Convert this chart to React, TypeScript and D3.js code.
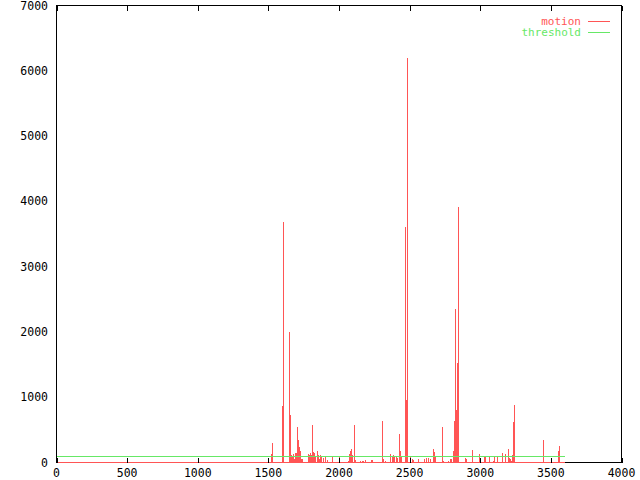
import React from "react";
import * as d3 from "d3";

const WIDTH = 640;
const HEIGHT = 480;

// frames with motion (everything else in 0..LAST_FRAME is 0)
const motionFrames = [
  1521, 1528, 1595, 1602, 1644, 1651, 1659, 1666, 1673, 1680, 1687, 1694, 1703, 1710, 1717, 1724,
  1729, 1736, 1779, 1786, 1793, 1800, 1812, 1818, 1825, 1832, 1843, 1850, 1857, 1864, 1871, 1890,
  1901, 1913, 1949, 2000, 2062, 2072, 2080, 2085, 2092, 2108, 2115, 2147, 2160, 2170, 2182, 2224,
  2235, 2307, 2313, 2323, 2362, 2373, 2384, 2391, 2401, 2412, 2427, 2434, 2441, 2465, 2470, 2474,
  2479, 2484, 2504, 2514, 2525, 2560, 2599, 2617, 2628, 2642, 2663, 2667, 2674, 2677, 2732, 2736,
  2771, 2783, 2795, 2807, 2814, 2821, 2828, 2833, 2840, 2889, 2896, 2939, 2988, 3024, 3034, 3064,
  3087, 3094, 3116, 3151, 3177, 3193, 3200, 3208, 3215, 3224, 3231, 3241, 3441, 3547, 3554,
];
const motionValues = [
  133, 296, 858, 3680, 2000, 720, 120, 80, 130, 60, 140, 150, 540, 340, 230, 180,
  60, 50, 130, 110, 150, 120, 582, 160, 140, 100, 170, 120, 60, 110, 90, 70,
  100, 40, 90, 90, 30, 130, 170, 210, 120, 580, 40, 30, 30, 30, 35, 40,
  40, 633, 60, 30, 130, 90, 110, 100, 90, 70, 440, 180, 80, 3600, 950, 950,
  6190, 950, 80, 60, 40, 60, 50, 70, 70, 60, 60, 210, 160, 100, 551, 30,
  30, 60, 60, 170, 640, 2350, 800, 1530, 3920, 70, 60, 194, 128, 90, 90, 90,
  20, 90, 90, 148, 130, 210, 70, 50, 30, 120, 618, 888, 350, 180, 260,
];
const FIRST_FRAME = 0;
const LAST_FRAME = 3600;
const THRESHOLD = 100;

const xTicks = [0, 500, 1000, 1500, 2000, 2500, 3000, 3500, 4000];
const yTicks = [0, 1000, 2000, 3000, 4000, 5000, 6000, 7000];

const RED = "#ff5555";
const GREEN = "#66e866";
const FONT = "'DejaVu Sans Mono', monospace";

const px = (v: number) => Math.round(v) + 0.5;

const App = () => {
  const x = d3.scaleLinear().domain([0, 4000]).range([56.5, 621.5]);
  const y = d3.scaleLinear().domain([0, 7000]).range([462.5, 5.5]);

  return (
    <svg
      width={WIDTH}
      height={HEIGHT}
      style={{ position: "absolute", left: 0, top: 0, background: "#fff" }}
      fontFamily={FONT}
      fontSize={11.5}
    >
      {/* frame */}
      <rect
        x={x(0)}
        y={y(7000)}
        width={x(4000) - x(0)}
        height={y(0) - y(7000)}
        fill="none"
        stroke="#000"
        strokeWidth={1}
        shapeRendering="crispEdges"
      />

      {/* motion impulses */}
      <g stroke={RED} strokeWidth={1} shapeRendering="crispEdges">
        {motionFrames.map((f, i) => (
          <line key={i} x1={px(x(f))} x2={px(x(f))} y1={y(0)} y2={Math.round(y(motionValues[i]))} />
        ))}
        <line x1={x(FIRST_FRAME)} x2={x(LAST_FRAME)} y1={y(0)} y2={y(0)} />
      </g>

      {/* threshold */}
      <line
        x1={x(FIRST_FRAME)}
        x2={x(LAST_FRAME)}
        y1={px(y(THRESHOLD))}
        y2={px(y(THRESHOLD))}
        stroke={GREEN}
        strokeWidth={1}
        shapeRendering="crispEdges"
      />

      {/* x ticks, bottom and mirrored on top */}
      <g stroke="#000" strokeWidth={1} shapeRendering="crispEdges">
        {xTicks.map((t) => (
          <g key={t}>
            <line x1={px(x(t))} x2={px(x(t))} y1={y(0)} y2={y(0) - 5} />
            <line x1={px(x(t))} x2={px(x(t))} y1={y(7000)} y2={y(7000) + 5} />
          </g>
        ))}
      </g>
      <g textAnchor="middle" fill="#000">
        {xTicks.map((t) => (
          <text key={t} x={x(t)} y={477}>
            {t}
          </text>
        ))}
      </g>

      {/* y labels */}
      <g textAnchor="end" fill="#000">
        {yTicks.map((t) => (
          <text key={t} x={48} y={y(t)} dy="0.35em">
            {t}
          </text>
        ))}
      </g>

      {/* legend */}
      <g textAnchor="end" fontSize={11}>
        <text x={581} y={21.5} dy="0.35em" fill={RED}>
          motion
        </text>
        <line x1={588} x2={610} y1={21.5} y2={21.5} stroke={RED} shapeRendering="crispEdges" />
        <text x={581} y={32.5} dy="0.35em" fill={GREEN}>
          threshold
        </text>
        <line x1={588} x2={610} y1={32.5} y2={32.5} stroke={GREEN} shapeRendering="crispEdges" />
      </g>
    </svg>
  );
};

export default App;
